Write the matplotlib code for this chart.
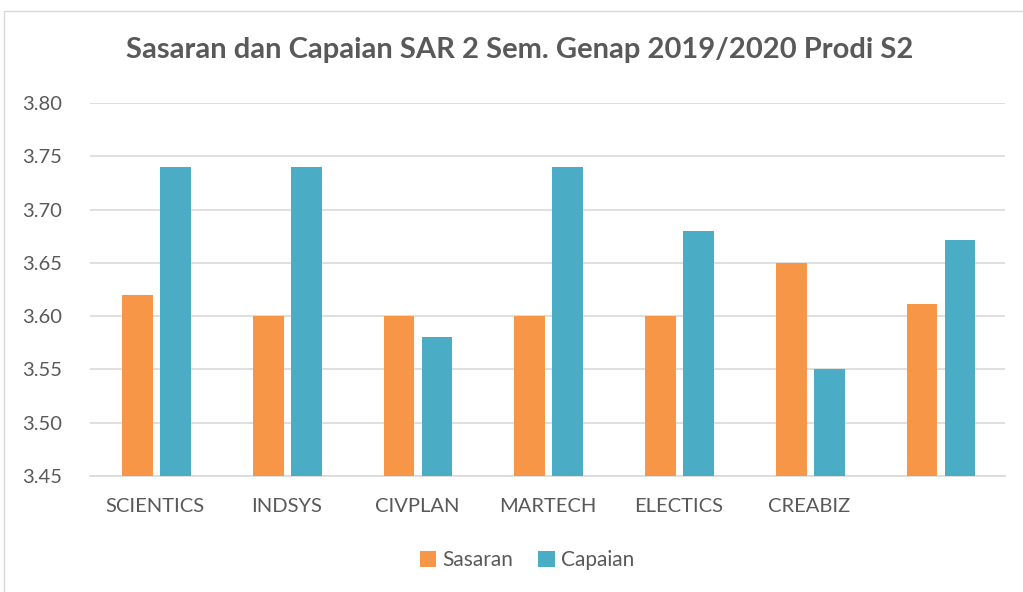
import numpy as np
import matplotlib.pyplot as plt
from matplotlib.patches import Rectangle

# data
categories = ['SCIENTICS', 'INDSYS', 'CIVPLAN', 'MARTECH', 'ELECTICS', 'CREABIZ', '']
sasaran = [3.62, 3.60, 3.60, 3.60, 3.60, 3.65, 3.611]
capaian = [3.74, 3.74, 3.58, 3.74, 3.68, 3.55, 3.671]

plt.rcParams['font.family'] = ['Lato', 'DejaVu Sans']
txt = '#595959'

fig = plt.figure(figsize=(10.23, 5.92), dpi=100)
ax = fig.add_axes([90 / 1023, 1 - 476 / 592, 915 / 1023, 373 / 592])

x = np.arange(len(categories))
w = 0.235
ax.bar(x - 0.135, sasaran, w, color='#f79646', label='Sasaran', zorder=3)
ax.bar(x + 0.155, capaian, w, color='#4bacc6', label='Capaian', zorder=3)

ax.set_ylim(3.45, 3.80)
ax.set_xlim(-0.5, len(categories) - 0.5)
ax.set_yticks(np.arange(3.45, 3.801, 0.05))
ax.yaxis.set_major_formatter(plt.FuncFormatter(lambda v, p: '%.2f' % v))
ax.set_xticks(x)
ax.set_xticklabels(categories)
ax.tick_params(length=0, labelsize=14.5, colors=txt)
ax.tick_params(axis='y', pad=20)
ax.tick_params(axis='x', pad=16)
ax.grid(axis='y', color='#d9d9d9', linewidth=1.2, zorder=0)
for s in ['top', 'right', 'left']:
    ax.spines[s].set_visible(False)
ax.spines['bottom'].set_color('#d9d9d9')
ax.spines['bottom'].set_linewidth(1.2)

fig.text(520 / 1023, 1 - 50 / 592, 'Sasaran dan Capaian SAR 2 Sem. Genap 2019/2020 Prodi S2',
         ha='center', va='center', fontsize=21, fontweight='bold', color=txt)

leg = fig.legend(loc='center', bbox_to_anchor=(527 / 1023, 1 - 560 / 592), ncol=2,
                 frameon=False, fontsize=15, handlelength=0.8, handleheight=0.8,
                 columnspacing=1.2, handletextpad=0.3)
for t in leg.get_texts():
    t.set_color(txt)

# outer chart frame
fig.patches.append(Rectangle((4 / 1023, -0.1), 1.2, 1 - 11 / 592 + 0.1,
                             transform=fig.transFigure, fill=False,
                             edgecolor='#d9d9d9', linewidth=1))

fig.savefig('out.png', dpi=100)
